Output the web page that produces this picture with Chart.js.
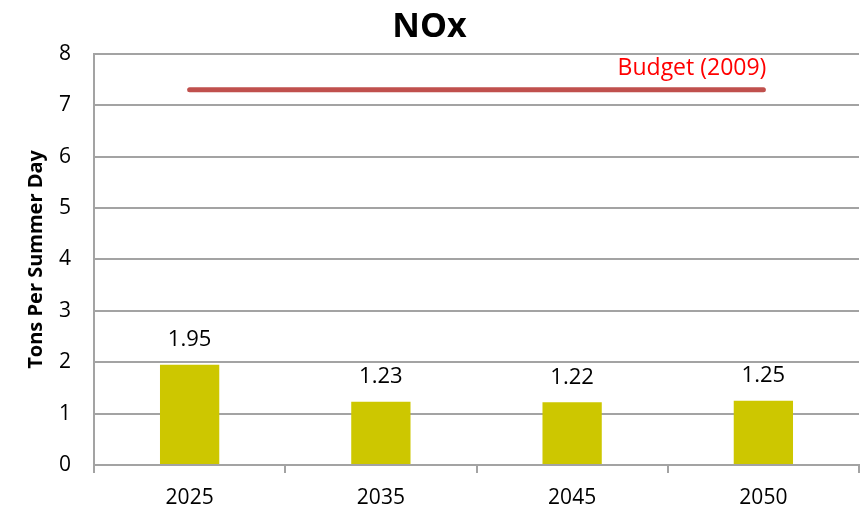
<!DOCTYPE html>
<html>
<head>
<meta charset="utf-8">
<script src="https://cdn.jsdelivr.net/npm/chart.js@4/dist/chart.umd.min.js"></script>
<style>
    html, body { margin: 0; padding: 0; background: #fff; }
    #wrap { width: 866px; height: 510px; }
</style>
</head>
<body>
<div id="wrap"><canvas id="chart"></canvas></div>
<script>
    // Chart data
    var years = ['2025', '2035', '2045', '2050'];
    var noxValues = [1.95, 1.23, 1.22, 1.25];
    var budgetValues = [7.3, 7.3, 7.3, 7.3];
    var budgetLabel = 'Budget (2009)';
    var yTicks = [0, 1, 2, 3, 4, 5, 6, 7, 8];

    var FONT = '"Open Sans"';
    var gridColor = '#a3a3a3';

    // Value labels on top of the bars, with a white box behind them
    var barLabels = {
        id: 'barLabels',
        afterDatasetsDraw: function(chart) {
            var ctx = chart.ctx;
            var meta = chart.getDatasetMeta(0);
            ctx.save();
            ctx.font = '22px ' + FONT;
            ctx.textAlign = 'center';
            ctx.textBaseline = 'middle';
            meta.data.forEach(function(bar, i) {
                var text = noxValues[i].toFixed(2);
                var w = ctx.measureText(text).width + 14;
                var y = bar.y - 25;
                ctx.fillStyle = '#fff';
                ctx.fillRect(bar.x - w / 2, y - 12, w, 24);
                ctx.fillStyle = '#000';
                ctx.fillText(text, bar.x, y);
            });

            // budget label at the end of the line
            var line = chart.getDatasetMeta(1);
            var last = line.data[line.data.length - 1];
            ctx.font = '23px ' + FONT;
            ctx.textAlign = 'right';
            ctx.fillStyle = '#ff0000';
            ctx.fillText(budgetLabel, last.x + 3, last.y - 21);
            ctx.restore();
        }
    };

    new Chart(document.getElementById('chart'), {
        type: 'bar',
        data: {
            labels: years,
            datasets: [{
                label: 'NOx',
                data: noxValues,
                backgroundColor: '#cdc700',
                barPercentage: 0.31,
                categoryPercentage: 1,
                order: 2
            }, {
                type: 'line',
                label: budgetLabel,
                data: budgetValues,
                borderColor: '#c0504d',
                borderWidth: 5,
                borderCapStyle: 'round',
                pointRadius: 0,
                fill: false,
                order: 1
            }]
        },
        plugins: [barLabels],
        options: {
            responsive: true,
            maintainAspectRatio: false,
            animation: false,
            layout: {
                padding: { left: 0, right: 7, top: 0, bottom: 0 }
            },
            plugins: {
                legend: { display: false },
                tooltip: { enabled: false },
                title: {
                    display: true,
                    text: 'NOx',
                    color: '#000',
                    font: { family: FONT, size: 34, weight: 'bold' },
                    padding: { top: 7, bottom: 6 }
                }
            },
            scales: {
                x: {
                    offset: true,
                    grid: {
                        display: true,
                        offset: true,
                        drawOnChartArea: false,
                        drawTicks: true,
                        tickLength: 8,
                        color: gridColor,
                        lineWidth: 2
                    },
                    border: { display: true, color: gridColor, width: 2 },
                    ticks: {
                        color: '#000',
                        padding: 12,
                        font: { family: FONT, size: 21 }
                    },
                    afterFit: function(scale) { scale.height = 45; }
                },
                y: {
                    min: 0,
                    max: 8,
                    afterBuildTicks: function(scale) {
                        scale.ticks = yTicks.map(function(v) { return { value: v }; });
                    },
                    grid: {
                        color: gridColor,
                        lineWidth: 2,
                        drawTicks: false
                    },
                    border: { display: true, color: gridColor, width: 2 },
                    ticks: {
                        color: '#000',
                        padding: 23,
                        font: { family: FONT, size: 21 }
                    },
                    title: {
                        display: true,
                        text: 'Tons Per Summer Day',
                        color: '#000',
                        font: { family: FONT, size: 20, weight: 'bold' },
                        padding: { top: 24, bottom: 0 }
                    },
                    afterFit: function(scale) { scale.width = 94; }
                }
            }
        }
    });
</script>
</body>
</html>
